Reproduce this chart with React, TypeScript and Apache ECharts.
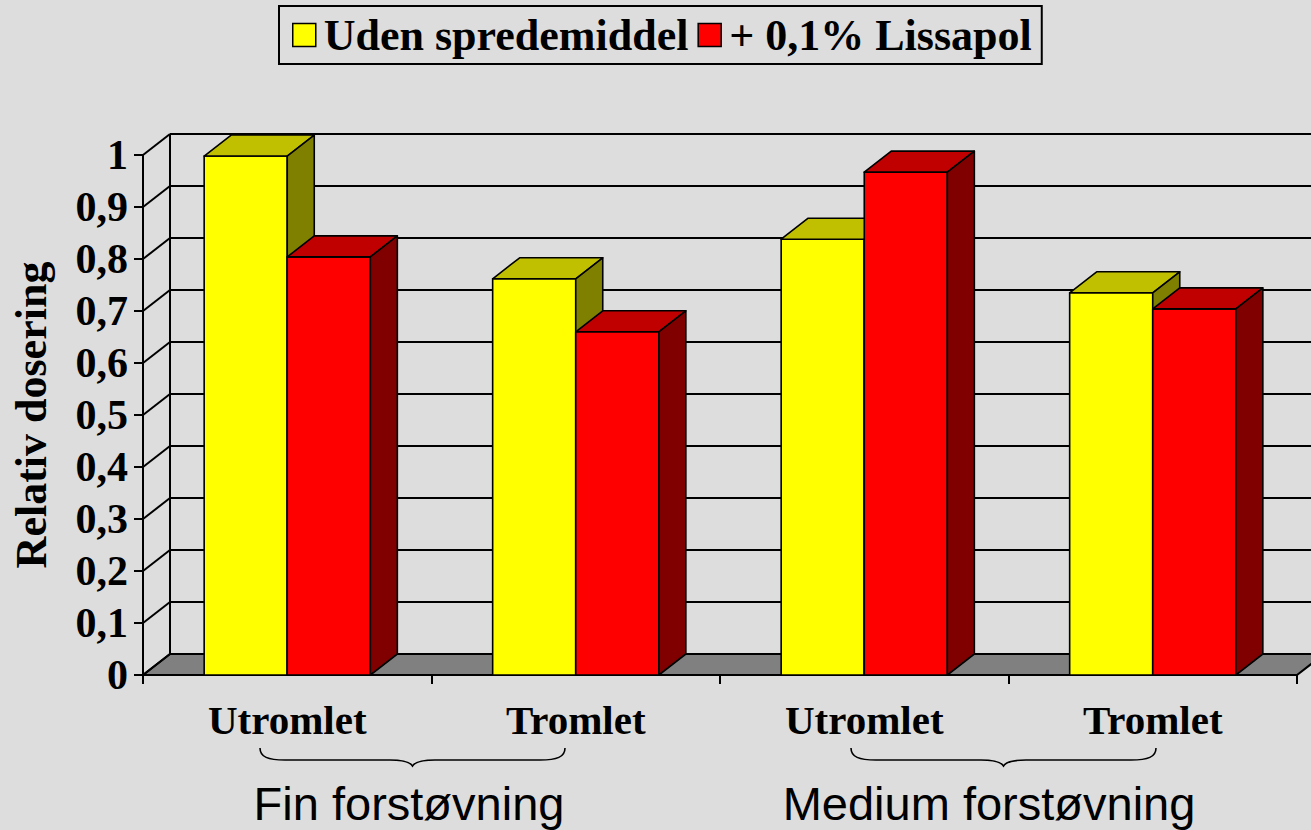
import React, { useEffect, useRef } from 'react';
import * as echarts from 'echarts';

const categories = ['Utromlet', 'Tromlet', 'Utromlet', 'Tromlet'];
const seriesNames = ['Uden spredemiddel', '+ 0,1% Lissapol'];
const udenValues = [0.998, 0.762, 0.838, 0.735];
const lissapolValues = [0.804, 0.66, 0.967, 0.704];
const yTicks = [0, 0.1, 0.2, 0.3, 0.4, 0.5, 0.6, 0.7, 0.8, 0.9, 1];
const yTickLabels = ['0', '0,1', '0,2', '0,3', '0,4', '0,5', '0,6', '0,7', '0,8', '0,9', '1'];
const yAxisTitle = 'Relativ dosering';
const groupLabels = ['Fin forstøvning', 'Medium forstøvning'];

const DX = 27;
const DY = -21;
const BAR_FRAC = 0.288;

const BRACE_D =
  'M0,0 C0,9 8,12 25,12 L130,12 C144,12 150,14 152.5,18 C155,14 161,12 175,12 L280,12 C297,12 305,9 305,0';

function barRenderer(side: number, front: string, top: string, sideColor: string) {
  return (params: any, api: any) => {
    const i = api.value(0);
    const v = api.value(1);
    const p = api.coord([i, v]);
    const b = api.coord([i, 0]);
    const bw = api.size([1, 0])[0] * BAR_FRAC;
    const x0 = side === 0 ? p[0] - bw : p[0];
    const x1 = x0 + bw;
    const yt = p[1];
    const yb = b[1];
    const st = { stroke: '#000', lineWidth: 1.6, lineJoin: 'round' };
    return {
      type: 'group',
      children: [
        { type: 'rect', shape: { x: x0, y: yt, width: bw, height: yb - yt }, style: { fill: front, ...st } },
        {
          type: 'polygon',
          shape: { points: [[x0, yt], [x1, yt], [x1 + DX, yt + DY], [x0 + DX, yt + DY]] },
          style: { fill: top, ...st },
        },
        {
          type: 'polygon',
          shape: { points: [[x1, yt], [x1 + DX, yt + DY], [x1 + DX, yb + DY], [x1, yb]] },
          style: { fill: sideColor, ...st },
        },
      ],
    };
  };
}

function frameRenderer(params: any, api: any) {
  const v = api.value(1);
  const cs = params.coordSys;
  const x0 = cs.x;
  const x1 = cs.x + cs.width;
  const y = api.coord([0, v])[1];
  const ls = { stroke: '#000', lineWidth: 2 };
  const children: any[] = [];
  if (v === 0) {
    const yTop = api.coord([0, yTicks[yTicks.length - 1]])[1];
    children.push({
      type: 'polygon',
      shape: { points: [[x0, y], [x1, y], [x1 + DX, y + DY], [x0 + DX, y + DY]] },
      style: { fill: '#808080', ...ls },
    });
    children.push({
      type: 'line',
      shape: { x1: x0 + DX, y1: y + DY, x2: x0 + DX, y2: yTop + DY },
      style: ls,
    });
  } else {
    children.push({
      type: 'line',
      shape: { x1: x0 + DX, y1: y + DY, x2: x1 + DX, y2: y + DY },
      style: ls,
    });
  }
  children.push({ type: 'line', shape: { x1: x0, y1: y, x2: x0 + DX, y2: y + DY }, style: ls });
  return { type: 'group', children };
}

export default function App() {
  const ref = useRef<HTMLDivElement>(null);
  useEffect(() => {
    document.body.style.margin = '0';
    echarts.graphic.registerShape('brace', echarts.graphic.extendPath(BRACE_D, {}) as any);
    const chart = echarts.init(ref.current!, null, { renderer: 'svg' });
    const serif = 'Liberation Serif';
    chart.setOption({
      animation: false,
      backgroundColor: '#DDDDDD',
      legend: {
        data: seriesNames,
        left: 279,
        top: 6,
        padding: [7, 10, 7, 13],
        itemGap: 9,
        itemWidth: 23,
        itemHeight: 23,
        icon: 'rect',
        borderColor: '#000',
        borderWidth: 2,
        itemStyle: { borderColor: '#000', borderWidth: 1.5 },
        textStyle: { fontFamily: serif, fontWeight: 'bold', fontSize: 44, color: '#000', padding: [0, 0, 0, 3] },
      },
      grid: { left: 143, top: 155, width: 1154, height: 520 },
      xAxis: {
        type: 'category',
        data: categories,
        axisLine: { show: true, lineStyle: { color: '#000', width: 2 } },
        axisTick: { show: true, length: 9, lineStyle: { color: '#000', width: 2 } },
        axisLabel: { fontFamily: serif, fontWeight: 'bold', fontSize: 41, color: '#000', margin: 24 },
      },
      yAxis: {
        type: 'value',
        min: 0,
        max: 1,
        interval: 0.1,
        name: yAxisTitle,
        nameLocation: 'middle',
        nameRotate: 90,
        nameGap: 90,
        nameTextStyle: { fontFamily: serif, fontWeight: 'bold', fontSize: 44, color: '#000' },
        axisLine: { show: true, lineStyle: { color: '#000', width: 2 } },
        axisTick: { show: true, length: 9, lineStyle: { color: '#000', width: 2 } },
        splitLine: { show: false },
        axisLabel: {
          fontFamily: serif,
          fontWeight: 'bold',
          fontSize: 42,
          color: '#000',
          margin: 15,
          formatter: (_v: number, idx: number) => yTickLabels[idx],
        },
      },
      graphic: [
        { type: 'brace', x: 260, y: 748, style: { fill: 'none', stroke: '#000', lineWidth: 1.6 } },
        { type: 'brace', x: 851, y: 748, style: { fill: 'none', stroke: '#000', lineWidth: 1.6 } },
        {
          type: 'text',
          x: 409,
          y: 803,
          style: { text: groupLabels[0], fontSize: 47, fontFamily: 'Liberation Sans', fill: '#000', align: 'center', verticalAlign: 'middle' },
        },
        {
          type: 'text',
          x: 989,
          y: 803,
          style: { text: groupLabels[1], fontSize: 47, fontFamily: 'Liberation Sans', fill: '#000', align: 'center', verticalAlign: 'middle' },
        },
      ],
      series: [
        {
          name: 'frame',
          type: 'custom',
          silent: true,
          renderItem: frameRenderer,
          encode: { x: 0, y: 1 },
          data: yTicks.map((v) => [0, v]),
          z: 1,
        },
        {
          name: seriesNames[0],
          type: 'custom',
          renderItem: barRenderer(0, '#FFFF00', '#C0C000', '#808000'),
          encode: { x: 0, y: 1 },
          itemStyle: { color: '#FFFF00' },
          data: udenValues.map((v, i) => [i, v]),
          z: 3,
        },
        {
          name: seriesNames[1],
          type: 'custom',
          renderItem: barRenderer(1, '#FF0000', '#C00000', '#800000'),
          encode: { x: 0, y: 1 },
          itemStyle: { color: '#FF0000' },
          data: lissapolValues.map((v, i) => [i, v]),
          z: 4,
        },
      ],
    });
    return () => chart.dispose();
  }, []);
  return <div ref={ref} style={{ position: 'absolute', left: 0, top: 0, width: 1311, height: 830 }} />;
}
